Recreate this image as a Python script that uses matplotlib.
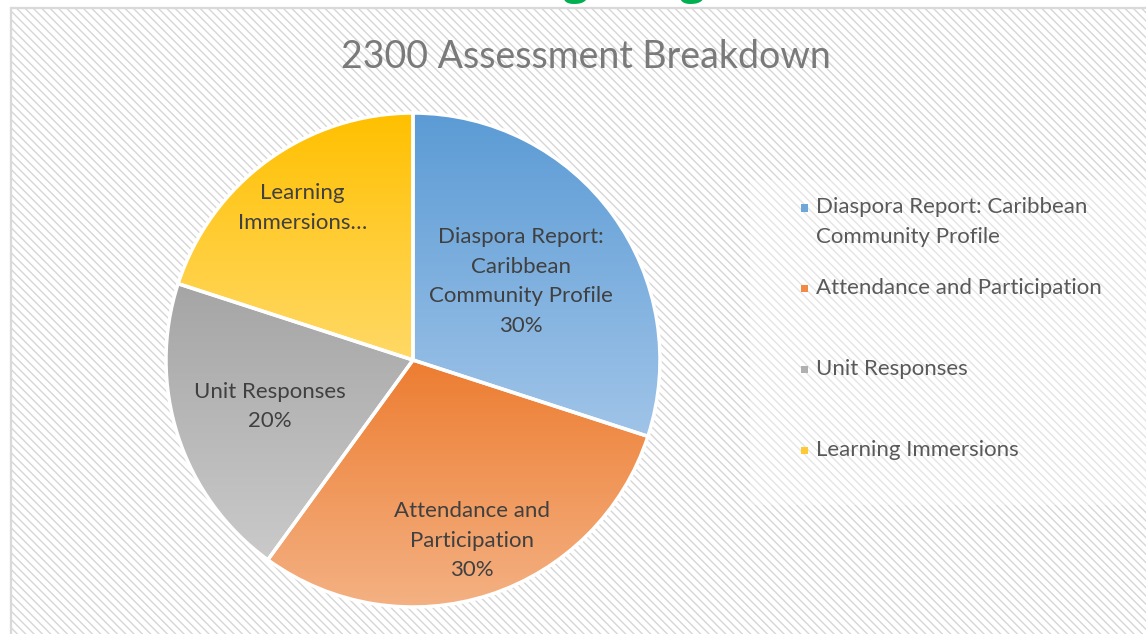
import numpy as np
import matplotlib
matplotlib.use("Agg")
import matplotlib.pyplot as plt
from matplotlib.patches import Rectangle
from matplotlib.colors import LinearSegmentedColormap

# ---- data ----
categories = ["Diaspora Report: Caribbean Community Profile",
              "Attendance and Participation",
              "Unit Responses",
              "Learning Immersions"]
values = [30, 30, 20, 20]
slice_labels = ["Diaspora Report:\nCaribbean\nCommunity Profile",
                "Attendance and\nParticipation",
                "Unit Responses",
                "Learning\nImmersions\u2026"]
show_pct = [True, True, True, False]
legend_labels = ["Diaspora Report: Caribbean\nCommunity Profile",
                 "Attendance and Participation",
                 "Unit Responses",
                 "Learning Immersions"]
title = "2300 Assessment Breakdown"

# ---- style ----
top_colors = ["#5b9bd5", "#ed7d31", "#a5a5a5", "#ffc000"]
bot_colors = ["#a0c4e8", "#f4b183", "#cacaca", "#ffd966"]
mid_colors = ["#6fa6da", "#f08a45", "#b0b0b0", "#ffc933"]
label_r = [0.54, 0.77, 0.61, 0.76]
legend_y_px = [222, 288, 369, 450]

W, H = 1146, 634
plt.rcParams["hatch.linewidth"] = 1.0
plt.rcParams["hatch.color"] = "#d6d6d6"
FONT = "Lato"

fig = plt.figure(figsize=(W / 100, H / 100), dpi=100)
fig.patch.set_facecolor("white")

# chart area with diagonal hatch
bg = Rectangle((11 / W, 0 - 0.01), 1.02, 1 - 8 / H + 0.01, transform=fig.transFigure,
               facecolor="white", edgecolor="#d6d6d6", hatch="\\\\\\\\", linewidth=1.5,
               zorder=-3)
fig.patches.append(bg)
bd = Rectangle((11 / W, -0.01), 1.02, 1 - 8 / H + 0.01, transform=fig.transFigure,
               facecolor="none", edgecolor="#d9d9d9", linewidth=1.6, zorder=-2)
fig.patches.append(bd)
# legend box (slightly lighter)
lg = Rectangle((750 / W, 1 - 505 / H), (W - 750) / W + 0.01, (505 - 180) / H,
               transform=fig.transFigure, facecolor="white", edgecolor="none",
               alpha=0.35, zorder=-1)
fig.patches.append(lg)

# green heading cut off at the top
fig.text(456 / W, 1 + 7 / H, "Assessment Weighting", ha="center", va="baseline",
         fontsize=32, fontweight="bold", color="#00b050", family="Open Sans")

# title
fig.text(586 / W, 1 - 57 / H, title, ha="center", va="center", fontsize=27,
         color="#7a7a7a", family=FONT)

# pie axes
cx, cy, r = 413, 360, 247
ax = fig.add_axes([(cx - r) / W, (H - cy - r) / H, 2 * r / W, 2 * r / H])
ax.axis("off")
ax.patch.set_alpha(0)

wedges, _ = ax.pie(values, startangle=90, counterclock=False, radius=1,
                   wedgeprops=dict(edgecolor="white", linewidth=2.5))

total = sum(values)
grad = np.linspace(0, 1, 256).reshape(-1, 1)
for i, w in enumerate(wedges):
    w.set_facecolor("none")
    w.set_zorder(3)
    ext = w.get_path().get_extents(w.get_patch_transform())
    cmap = LinearSegmentedColormap.from_list("g%d" % i, [top_colors[i], bot_colors[i]])
    im = ax.imshow(grad, cmap=cmap, extent=(ext.x0, ext.x1, ext.y0, ext.y1),
                   origin="upper", aspect="auto", zorder=2, interpolation="bilinear")
    im.set_clip_path(w)
    mid = np.deg2rad((w.theta1 + w.theta2) / 2)
    txt = slice_labels[i]
    if show_pct[i]:
        txt += "\n%d%%" % round(values[i] / total * 100)
    ax.text(label_r[i] * np.cos(mid), label_r[i] * np.sin(mid), txt,
            ha="center", va="center", fontsize=16, color="#404040", family=FONT,
            linespacing=1.6, zorder=4)
ax.set_xlim(-1, 1)
ax.set_ylim(-1, 1)
ax.set_aspect("auto")

# legend
for i, lab in enumerate(legend_labels):
    y = 1 - legend_y_px[i] / H
    n = lab.count("\n") + 1
    ytop = y + (n - 1) * 14.5 / H
    fig.patches.append(Rectangle((801 / W, ytop - 4 / H), 7 / W, 7 / H,
                                 transform=fig.transFigure, facecolor=mid_colors[i],
                                 edgecolor="none", zorder=3))
    fig.text(816 / W, y, lab, ha="left", va="center", fontsize=16,
             color="#595959", family=FONT, linespacing=1.58)

fig.savefig("out.png", dpi=100, facecolor="white")
